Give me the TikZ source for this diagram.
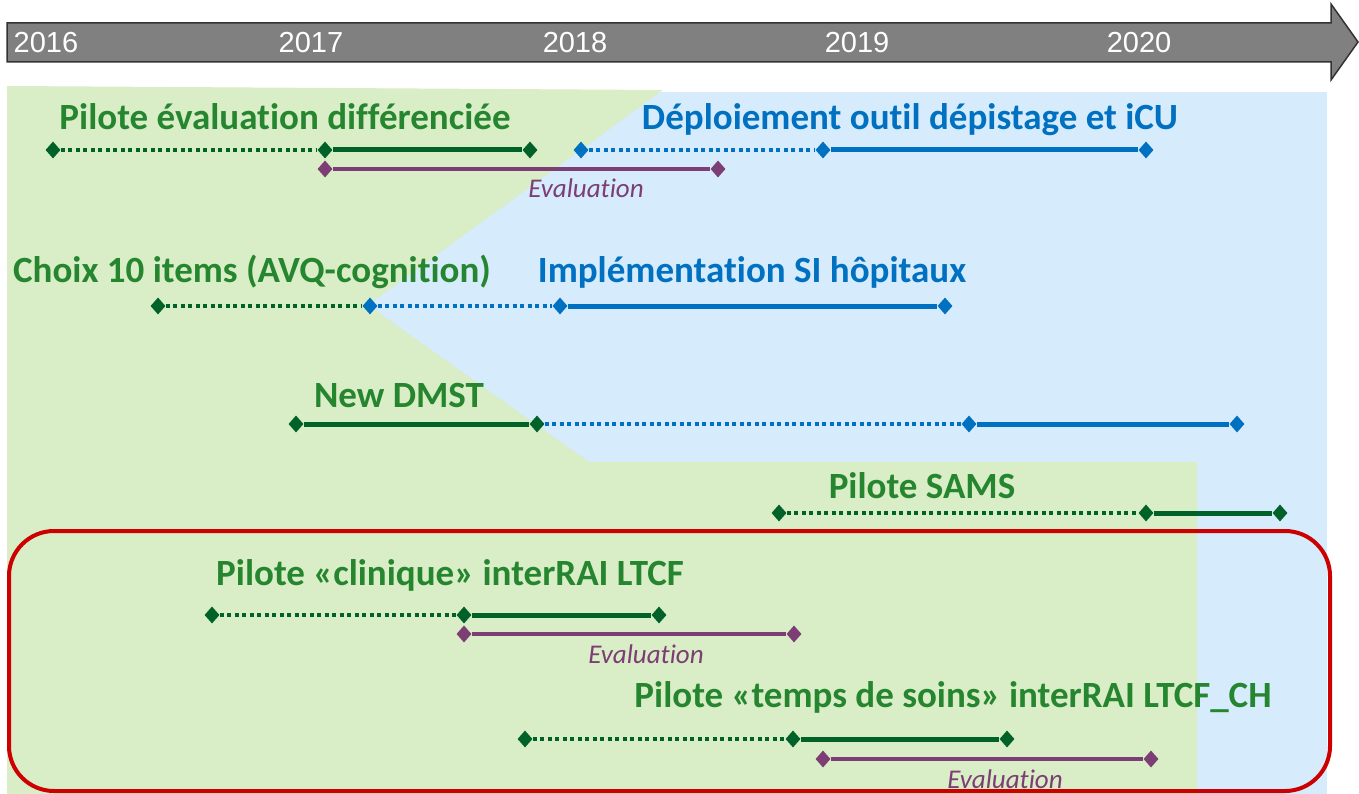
\documentclass[tikz,border=0pt]{standalone}
\usepackage{fontspec}
\setmainfont{Carlito}[Ligatures=NoCommon]
\newfontfamily\yearfont{Liberation Sans}
\usetikzlibrary{shapes.geometric}

\definecolor{bargreen}{RGB}{0,98,40}
\definecolor{txtgreen}{RGB}{38,134,48}
\definecolor{barblue}{RGB}{0,112,192}
\definecolor{evalpurple}{RGB}{124,62,116}
\definecolor{bggreen}{RGB}{217,237,198}
\definecolor{bgblue}{RGB}{214,235,252}
\definecolor{framered}{RGB}{204,0,0}

\tikzset{
  gdia/.style={diamond,fill=bargreen,inner sep=0pt,minimum width=15pt,minimum height=17pt},
  bdia/.style={gdia,fill=barblue},
  pdia/.style={gdia,fill=evalpurple},
  gline/.style={line width=5pt,bargreen},
  bline/.style={line width=5pt,barblue},
  pline/.style={line width=4.5pt,evalpurple},
  gdot/.style={gline,line width=4.5pt,dash pattern=on 4pt off 3.5pt},
  bdot/.style={bline,line width=4.5pt,dash pattern=on 4pt off 3.5pt},
  gtitle/.style={anchor=base,inner sep=0pt,text=txtgreen,font=\fontsize{37}{42}\selectfont\bfseries},
  btitle/.style={gtitle,text=barblue},
  evaltxt/.style={anchor=base,inner sep=0pt,text=evalpurple,font=\fontsize{27}{32}\selectfont\itshape},
  yeartxt/.style={anchor=base,inner sep=0pt,text=white,font=\yearfont\fontsize{29}{33}\selectfont}
}

\begin{document}
\begin{tikzpicture}[x=1pt,y=-1pt]
  \useasboundingbox (0,0) rectangle (1359,794);

  % backgrounds
  \fill[bgblue] (370,92) rectangle (1327,794);
  \fill[bggreen] (7,86) -- (663,90) -- (368,305) -- (589,462) -- (1197,462)
    -- (1197,794) -- (7,794) -- cycle;

  % time arrow
  \draw[line width=1.5pt,draw=black!80,fill=black!50] (7,23) -- (1331,23) -- (1331,4)
    -- (1358,42) -- (1331,80) -- (1331,62) -- (7,62) -- cycle;
  \foreach \yr/\xx in {2016/46,2017/311,2018/575,2019/857,2020/1139}
    \node[yeartxt] (y\yr) at (\xx,53) {\yr};

  % frame round the LTCF pilots
  \draw[line width=4pt,framered,rounded corners=45pt] (9,531) rectangle (1330,791);

  % titles
  \node[gtitle] (tdiff) at (285,130) {Pilote évaluation différenciée};
  \node[btitle] (tdepl) at (910,130) {Déploiement outil dépistage et iCU};
  \node[gtitle] (tchoix) at (252,283) {Choix 10 items (AVQ-cognition)};
  \node[btitle] (timpl) at (752,283) {Implémentation SI hôpitaux};
  \node[gtitle] (tdmst) at (399,407) {New DMST};
  \node[gtitle] (tsams) at (922,498) {Pilote SAMS};
  \node[gtitle] (tclin) at (450,585) {Pilote «clinique» interRAI LTCF};
  \node[gtitle] (tsoin) at (953,707) {Pilote «temps de soins» interRAI LTCF\_CH};
  \node[evaltxt] (ev1) at (586,198) {Evaluation};
  \node[evaltxt] (ev2) at (646,663) {Evaluation};
  \node[evaltxt] (ev3) at (1005,788) {Evaluation};

  % milestones
  \foreach \n/\xx/\yy in {a1/53/150,a2/325/150,a3/530/150,c1/158/306,d1/296/424,d2/537/424,
      s1/779/513,s2/1146/513,s3/1280/513,k1/212/615,k2/464/615,k3/659/615,
      t1/525/739,t2/793/739,t3/1007/739}
    \node[gdia] (\n) at (\xx,\yy) {};
  \foreach \n/\xx/\yy in {b1/581/150,b2/823/150,b3/1146/150,c2/370/306,c3/560/306,c4/945/306,
      d3/969/424,d4/1237/424}
    \node[bdia] (\n) at (\xx,\yy) {};
  \foreach \n/\xx/\yy in {e1/325/169,e2/718/169,f1/464/634,f2/794/634,h1/823/759,h2/1151/759}
    \node[pdia] (\n) at (\xx,\yy) {};

  % bars
  \draw[gdot] (a1) -- (a2);
  \draw[gline] (a2) -- (a3);
  \draw[bdot] (b1) -- (b2);
  \draw[bline] (b2) -- (b3);
  \draw[pline] (e1) -- (e2);

  \draw[gdot] (c1) -- (c2);
  \draw[bdot] (c2) -- (c3);
  \draw[bline] (c3) -- (c4);

  \draw[gline] (d1) -- (d2);
  \draw[bdot] (d2) -- (d3);
  \draw[bline] (d3) -- (d4);

  \draw[gdot] (s1) -- (s2);
  \draw[gline] (s2) -- (s3);

  \draw[gdot] (k1) -- (k2);
  \draw[gline] (k2) -- (k3);
  \draw[pline] (f1) -- (f2);

  \draw[gdot] (t1) -- (t2);
  \draw[gline] (t2) -- (t3);
  \draw[pline] (h1) -- (h2);
\end{tikzpicture}
\end{document}
